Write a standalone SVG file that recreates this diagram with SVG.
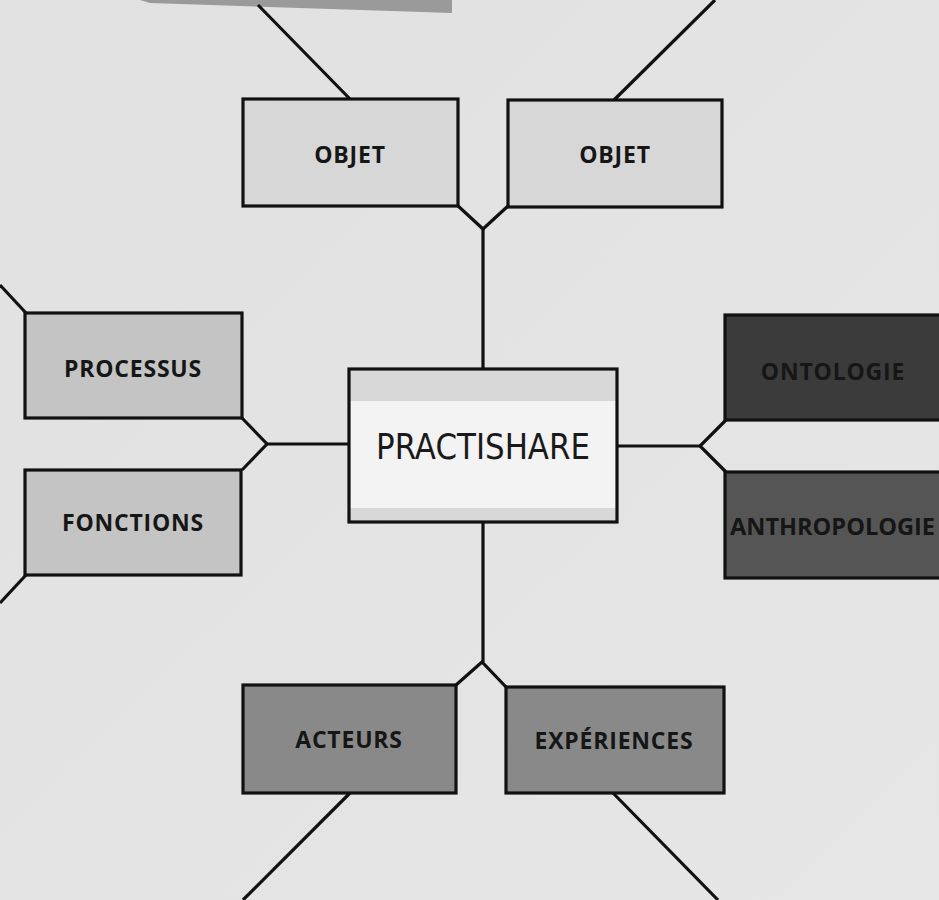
<svg xmlns="http://www.w3.org/2000/svg" width="939" height="900" viewBox="0 0 939 900">
<defs>
<style>
.box{stroke:#111111;stroke-width:3.2}
.lbl{font-family:"Open Sans","Noto Sans","DejaVu Sans",sans-serif;font-weight:700;font-size:23px;letter-spacing:0.8px;fill:#161616;text-anchor:middle}
.con{fill:none;stroke:#111111;stroke-width:3.2;stroke-linejoin:miter}
</style>
<linearGradient id="bg" x1="0" y1="0" x2="1" y2="1">
<stop offset="0" stop-color="#e1e1e1"/>
<stop offset="1" stop-color="#e6e6e6"/>
</linearGradient>
</defs>
<rect width="939" height="900" fill="url(#bg)"/>
<polygon points="140,0 452,0 452,13 150,3" fill="#9a9a9a"/>
<g id="connectors">
<line class="con" x1="258" y1="5" x2="350" y2="99"/>
<line class="con" x1="715" y1="0" x2="614" y2="100"/>
<polyline class="con" points="457,205 483,229 508,206"/>
<line class="con" x1="483" y1="229" x2="483" y2="370"/>
<line class="con" x1="26" y1="313" x2="0" y2="285"/>
<line class="con" x1="26" y1="575" x2="0" y2="603"/>
<polyline class="con" points="242,418 267,444 242,470"/>
<line class="con" x1="267" y1="444" x2="349" y2="444"/>
<line class="con" x1="617" y1="446" x2="700" y2="446"/>
<polyline class="con" points="726,420 700,446 726,472"/>
<line class="con" x1="483" y1="522" x2="483" y2="662"/>
<polyline class="con" points="456,685 482,662 506,687"/>
<line class="con" x1="350" y1="793" x2="243" y2="900"/>
<line class="con" x1="613" y1="793" x2="718" y2="900"/>
</g>
<g id="objet-left">
<rect class="box" x="243" y="99" width="215" height="107" fill="#d7d7d7"/>
<text class="lbl" x="350" y="163">OBJET</text>
</g>
<g id="objet-right">
<rect class="box" x="508" y="100" width="214" height="107" fill="#d7d7d7"/>
<text class="lbl" x="615" y="163">OBJET</text>
</g>
<g id="processus">
<rect class="box" x="25" y="313" width="217" height="105" fill="#c4c4c4"/>
<text class="lbl" x="133" y="377">PROCESSUS</text>
</g>
<g id="fonctions">
<rect class="box" x="25" y="470" width="216" height="105" fill="#c4c4c4"/>
<text class="lbl" x="133" y="531">FONCTIONS</text>
</g>
<g id="ontologie">
<rect class="box" x="725" y="315" width="220" height="105" fill="#3b3b3b"/>
<text class="lbl" x="833" y="380" fill="#141414">ONTOLOGIE</text>
</g>
<g id="anthropologie">
<rect class="box" x="725" y="472" width="220" height="106" fill="#555555"/>
<text class="lbl" x="730" y="535" style="text-anchor:start;letter-spacing:0" textLength="205" lengthAdjust="spacingAndGlyphs">ANTHROPOLOGIE</text>
</g>
<g id="acteurs">
<rect class="box" x="243" y="685" width="213" height="108" fill="#898989"/>
<text class="lbl" x="349" y="748">ACTEURS</text>
</g>
<g id="experiences">
<rect class="box" x="506" y="687" width="218" height="106" fill="#898989"/>
<text class="lbl" x="614" y="749">EXPÉRIENCES</text>
</g>
<g id="practishare">
<rect x="349" y="369" width="268" height="153" fill="#d8d8d8"/>
<rect x="350" y="401" width="267" height="107" fill="#f3f3f3"/>
<rect class="box" x="349" y="369" width="268" height="153" fill="none"/>
<text x="483" y="459" text-anchor="middle" font-family="'DejaVu Sans',sans-serif" font-size="36" fill="#1a1a1a" textLength="214" lengthAdjust="spacingAndGlyphs">PRACTISHARE</text>
</g>
</svg>
